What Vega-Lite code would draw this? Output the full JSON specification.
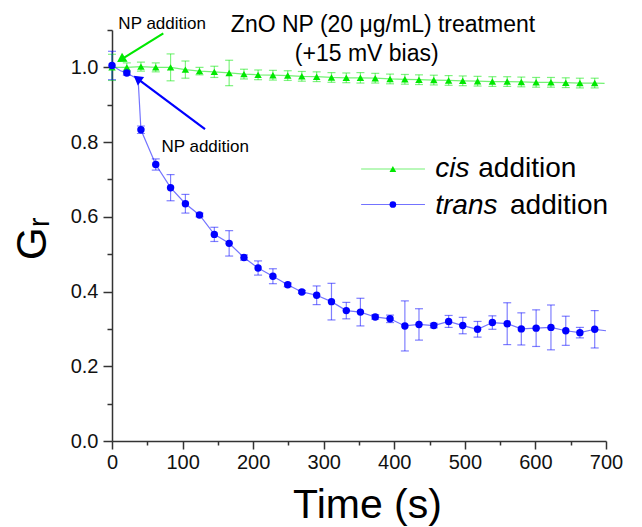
{
  "$schema": "https://vega.github.io/schema/vega-lite/v6.json",
  "width": 494,
  "height": 411,
  "autosize": "none",
  "padding": {"left": 112, "top": 30, "right": 36, "bottom": 86},
  "background": "white",
  "config": {"view": {"stroke": null}, "font": "Liberation Sans"},
  "datasets": {
    "series": [
      {"series": "cis", "t": 0, "G": 1.000, "err": 0.035},
      {"series": "cis", "t": 21, "G": 1.000, "err": 0.012},
      {"series": "cis", "t": 41, "G": 1.002, "err": 0.012},
      {"series": "cis", "t": 62, "G": 1.000, "err": 0.012},
      {"series": "cis", "t": 83, "G": 1.000, "err": 0.036},
      {"series": "cis", "t": 104, "G": 0.994, "err": 0.023},
      {"series": "cis", "t": 124, "G": 0.990, "err": 0.010},
      {"series": "cis", "t": 145, "G": 0.988, "err": 0.015},
      {"series": "cis", "t": 166, "G": 0.985, "err": 0.034},
      {"series": "cis", "t": 187, "G": 0.982, "err": 0.013},
      {"series": "cis", "t": 207, "G": 0.980, "err": 0.013},
      {"series": "cis", "t": 228, "G": 0.979, "err": 0.013},
      {"series": "cis", "t": 249, "G": 0.978, "err": 0.013},
      {"series": "cis", "t": 269, "G": 0.976, "err": 0.013},
      {"series": "cis", "t": 290, "G": 0.975, "err": 0.013},
      {"series": "cis", "t": 311, "G": 0.973, "err": 0.013},
      {"series": "cis", "t": 332, "G": 0.972, "err": 0.013},
      {"series": "cis", "t": 352, "G": 0.972, "err": 0.014},
      {"series": "cis", "t": 373, "G": 0.971, "err": 0.013},
      {"series": "cis", "t": 394, "G": 0.969, "err": 0.013},
      {"series": "cis", "t": 415, "G": 0.968, "err": 0.013},
      {"series": "cis", "t": 435, "G": 0.967, "err": 0.013},
      {"series": "cis", "t": 456, "G": 0.966, "err": 0.013},
      {"series": "cis", "t": 477, "G": 0.965, "err": 0.013},
      {"series": "cis", "t": 497, "G": 0.964, "err": 0.013},
      {"series": "cis", "t": 518, "G": 0.963, "err": 0.013},
      {"series": "cis", "t": 539, "G": 0.962, "err": 0.013},
      {"series": "cis", "t": 560, "G": 0.962, "err": 0.013},
      {"series": "cis", "t": 580, "G": 0.961, "err": 0.013},
      {"series": "cis", "t": 601, "G": 0.960, "err": 0.013},
      {"series": "cis", "t": 622, "G": 0.960, "err": 0.013},
      {"series": "cis", "t": 643, "G": 0.959, "err": 0.013},
      {"series": "cis", "t": 663, "G": 0.958, "err": 0.013},
      {"series": "cis", "t": 684, "G": 0.958, "err": 0.013},
      {"series": "cis", "t": 698, "G": 0.957, "err": null},
      {"series": "trans", "t": 0, "G": 1.005, "err": 0.038},
      {"series": "trans", "t": 12, "G": 0.991, "err": null},
      {"series": "trans", "t": 21, "G": 0.985, "err": 0.006},
      {"series": "trans", "t": 37, "G": 0.968, "err": null},
      {"series": "trans", "t": 41, "G": 0.833, "err": 0.010},
      {"series": "trans", "t": 62, "G": 0.740, "err": 0.015},
      {"series": "trans", "t": 83, "G": 0.678, "err": 0.035},
      {"series": "trans", "t": 104, "G": 0.635, "err": 0.025},
      {"series": "trans", "t": 124, "G": 0.605, "err": 0.005},
      {"series": "trans", "t": 145, "G": 0.553, "err": 0.019},
      {"series": "trans", "t": 166, "G": 0.529, "err": 0.034},
      {"series": "trans", "t": 187, "G": 0.491, "err": 0.007},
      {"series": "trans", "t": 207, "G": 0.463, "err": 0.019},
      {"series": "trans", "t": 228, "G": 0.441, "err": 0.020},
      {"series": "trans", "t": 249, "G": 0.418, "err": 0.005},
      {"series": "trans", "t": 269, "G": 0.399, "err": 0.004},
      {"series": "trans", "t": 290, "G": 0.390, "err": 0.025},
      {"series": "trans", "t": 311, "G": 0.373, "err": 0.049},
      {"series": "trans", "t": 332, "G": 0.349, "err": 0.022},
      {"series": "trans", "t": 352, "G": 0.345, "err": 0.037},
      {"series": "trans", "t": 373, "G": 0.332, "err": 0.006},
      {"series": "trans", "t": 394, "G": 0.327, "err": 0.010},
      {"series": "trans", "t": 415, "G": 0.308, "err": 0.067},
      {"series": "trans", "t": 435, "G": 0.312, "err": 0.042},
      {"series": "trans", "t": 456, "G": 0.309, "err": 0.006},
      {"series": "trans", "t": 477, "G": 0.320, "err": 0.016},
      {"series": "trans", "t": 497, "G": 0.309, "err": 0.022},
      {"series": "trans", "t": 518, "G": 0.299, "err": 0.021},
      {"series": "trans", "t": 539, "G": 0.317, "err": 0.018},
      {"series": "trans", "t": 560, "G": 0.314, "err": 0.056},
      {"series": "trans", "t": 580, "G": 0.300, "err": 0.043},
      {"series": "trans", "t": 601, "G": 0.302, "err": 0.049},
      {"series": "trans", "t": 622, "G": 0.304, "err": 0.060},
      {"series": "trans", "t": 643, "G": 0.295, "err": 0.039},
      {"series": "trans", "t": 663, "G": 0.290, "err": 0.014},
      {"series": "trans", "t": 684, "G": 0.299, "err": 0.050},
      {"series": "trans", "t": 700, "G": 0.295, "err": null}
    ],
    "legend": [
      {"series": "cis", "t": 353, "t2": 443.5, "tm": 398, "G": 0.728},
      {"series": "trans", "t": 353, "t2": 443.5, "tm": 398, "G": 0.633}
    ],
    "legendText": [
      {"series": "cis", "part": "name", "text": "cis", "t": 458, "G": 0.706},
      {"series": "cis", "part": "word", "text": "addition", "t": 519, "G": 0.706},
      {"series": "trans", "part": "name", "text": "trans", "t": 458, "G": 0.608},
      {"series": "trans", "part": "word", "text": "addition", "t": 564, "G": 0.608}
    ],
    "notes": [
      {"kind": "title", "text": "ZnO NP (20 μg/mL) treatment", "t": 384, "G": 1.094},
      {"kind": "title", "text": "(+15 mV bias)", "t": 361, "G": 1.018},
      {"kind": "np", "text": "NP addition", "t": 9, "G": 1.103},
      {"kind": "np", "text": "NP addition", "t": 70, "G": 0.773}
    ],
    "arrows": [
      {"series": "cis", "t": 72.7, "G": 1.091, "t2": 12.7, "G2": 1.0206},
      {"series": "trans", "t": 131.8, "G": 0.835, "t2": 35.9, "G2": 0.970}
    ]
  },
  "encoding": {
    "x": {
      "field": "t", "type": "quantitative",
      "scale": {"domain": [0, 700], "nice": false},
      "axis": {
        "title": "Time (s)",
        "values": [0, 50, 100, 150, 200, 250, 300, 350, 400, 450, 500, 550, 600, 650, 700],
        "labelExpr": "datum.value % 100 === 0 ? datum.label : ''",
        "tickSize": {"condition": {"test": "datum.value % 100 === 0", "value": 8}, "value": 4},
        "tickColor": "#333", "tickWidth": 1.5,
        "domainColor": "#333", "domainWidth": 1.5,
        "grid": false,
        "labelFont": "Liberation Sans", "labelFontSize": 20, "labelColor": "#111",
        "labelPadding": 3, "labelFlush": false, "labelOverlap": false,
        "titleFont": "Liberation Sans", "titleFontSize": 41, "titleFontWeight": "normal", "titleColor": "#000",
        "titleX": 255, "titleY": 76, "titleBaseline": "alphabetic", "titleAlign": "center"
      }
    },
    "y": {
      "field": "G", "type": "quantitative",
      "scale": {"domain": [0, 1.1], "nice": false, "zero": true},
      "axis": {
        "title": "Gᵣ",
        "values": [0, 0.1, 0.2, 0.3, 0.4, 0.5, 0.6, 0.7, 0.8, 0.9, 1.0, 1.1],
        "labelExpr": "round(datum.value*10) % 2 === 0 ? format(datum.value, '.1f') : ''",
        "tickSize": {"condition": {"test": "round(datum.value*10) % 2 === 0", "value": 9}, "value": 5},
        "tickColor": "#333", "tickWidth": 1.5,
        "domainColor": "#333", "domainWidth": 1.5,
        "grid": false,
        "labelFont": "Liberation Sans", "labelFontSize": 20, "labelColor": "#111",
        "labelPadding": 5, "labelOverlap": false,
        "titleFont": "Liberation Sans", "titleFontSize": 42, "titleFontWeight": "normal", "titleColor": "#000",
        "titleX": -67, "titleY": 208, "titleBaseline": "alphabetic", "titleAlign": "center", "titleAngle": 270
      }
    }
  },
  "layer": [
    {
      "data": {"name": "series"},
      "mark": {"type": "line", "strokeWidth": 1.2, "opacity": 0.55},
      "encoding": {
        "color": {"field": "series", "type": "nominal", "scale": {"domain": ["cis", "trans"], "range": ["#00e800", "#0000ff"]}, "legend": null},
        "detail": {"field": "series"}
      }
    },
    {
      "data": {"name": "series"},
      "transform": [{"filter": "datum.err != null"}],
      "mark": {"type": "errorbar", "ticks": {"size": 8}, "thickness": 1.2, "opacity": 0.5},
      "encoding": {
        "yError": {"field": "err"},
        "color": {"field": "series", "type": "nominal", "legend": null}
      }
    },
    {
      "data": {"name": "series"},
      "transform": [{"filter": "datum.err != null"}],
      "mark": {"type": "point", "filled": true, "opacity": 1, "size": 55},
      "encoding": {
        "color": {"field": "series", "type": "nominal", "legend": null},
        "shape": {"field": "series", "type": "nominal", "scale": {"domain": ["cis", "trans"], "range": ["triangle-up", "circle"]}, "legend": null}
      }
    },
    {
      "data": {"name": "legend"},
      "mark": {"type": "rule", "strokeWidth": 1.2, "opacity": 0.55},
      "encoding": {
        "x2": {"field": "t2"},
        "color": {"field": "series", "type": "nominal", "legend": null}
      }
    },
    {
      "data": {"name": "legend"},
      "mark": {"type": "point", "filled": true, "opacity": 1, "size": 45},
      "encoding": {
        "x": {"field": "tm", "type": "quantitative", "title": "Time (s)"},
        "color": {"field": "series", "type": "nominal", "legend": null},
        "shape": {"field": "series", "type": "nominal", "legend": null}
      }
    },
    {
      "data": {"name": "legendText"},
      "transform": [{"filter": "datum.part === 'name'"}],
      "mark": {"type": "text", "align": "left", "baseline": "alphabetic", "font": "Liberation Sans", "fontSize": 28, "fontStyle": "italic", "color": "#000"},
      "encoding": {
        "text": {"field": "text"}
      }
    },
    {
      "data": {"name": "legendText"},
      "transform": [{"filter": "datum.part === 'word'"}],
      "mark": {"type": "text", "align": "left", "baseline": "alphabetic", "font": "Liberation Sans", "fontSize": 28, "color": "#000"},
      "encoding": {
        "text": {"field": "text"}
      }
    },
    {
      "data": {"name": "notes"},
      "transform": [{"filter": "datum.kind === 'title'"}],
      "mark": {"type": "text", "align": "center", "baseline": "alphabetic", "font": "Liberation Sans", "fontSize": 23, "color": "#000"},
      "encoding": {
        "text": {"field": "text"}
      }
    },
    {
      "data": {"name": "notes"},
      "transform": [{"filter": "datum.kind === 'np'"}],
      "mark": {"type": "text", "align": "left", "baseline": "alphabetic", "font": "Liberation Sans", "fontSize": 17, "color": "#000"},
      "encoding": {
        "text": {"field": "text"}
      }
    },
    {
      "data": {"name": "arrows"},
      "mark": {"type": "rule", "strokeWidth": 2.2},
      "encoding": {
        "x2": {"field": "t2"},
        "y2": {"field": "G2"},
        "color": {"field": "series", "type": "nominal", "legend": null}
      }
    },
    {
      "data": {"name": "arrows"},
      "transform": [{"filter": "datum.series === 'cis'"}],
      "mark": {"type": "point", "shape": "triangle-up", "filled": true, "opacity": 1, "size": 110, "angle": 238},
      "encoding": {
        "x": {"field": "t2", "type": "quantitative", "title": "Time (s)"},
        "y": {"field": "G2", "type": "quantitative", "title": "Gᵣ"},
        "color": {"field": "series", "type": "nominal", "legend": null}
      }
    },
    {
      "data": {"name": "arrows"},
      "transform": [{"filter": "datum.series === 'trans'"}],
      "mark": {"type": "point", "shape": "triangle-up", "filled": true, "opacity": 1, "size": 110, "angle": 307},
      "encoding": {
        "x": {"field": "t2", "type": "quantitative", "title": "Time (s)"},
        "y": {"field": "G2", "type": "quantitative", "title": "Gᵣ"},
        "color": {"field": "series", "type": "nominal", "legend": null}
      }
    }
  ]
}
